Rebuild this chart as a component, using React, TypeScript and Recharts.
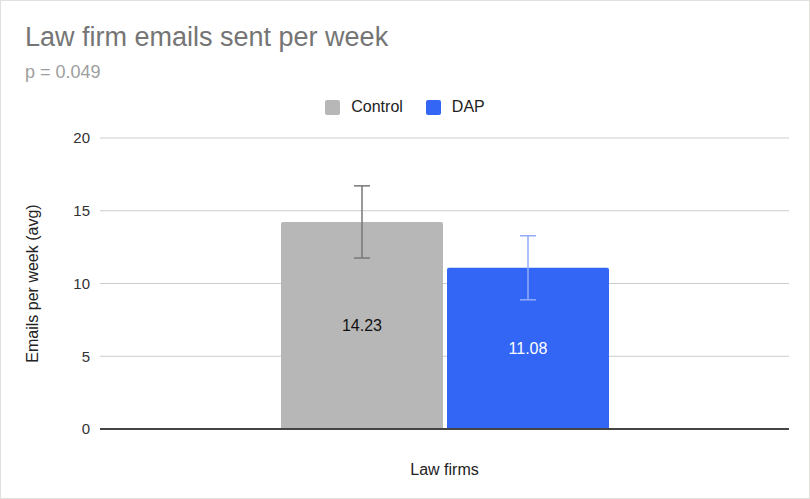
import { Bar, BarChart, CartesianGrid, ErrorBar, LabelList, Legend, XAxis, YAxis } from "recharts"

// Values
const categories = ["Law firms"]
const controlMeans = [14.23]
const dapMeans = [11.08]
const controlErrors = [2.48]
const dapErrors = [2.2]
const yTicks = [0, 5, 10, 15, 20]

const CONTROL_COLOR = "#b7b7b7"
const DAP_COLOR = "#3366f5"
const FONT = "Arial, 'Liberation Sans', Helvetica, sans-serif"

const data = categories.map((name, i) => ({
  name,
  control: controlMeans[i],
  dap: dapMeans[i],
  controlErr: controlErrors[i],
  dapErr: dapErrors[i],
}))

const legendItems = [
  { label: "Control", color: CONTROL_COLOR },
  { label: "DAP", color: DAP_COLOR },
]

function ChartLegend() {
  return (
    <div style={{ display: "flex", justifyContent: "center", alignItems: "center", height: 16, fontFamily: FONT }}>
      {legendItems.map((item, i) => (
        <div
          key={item.label}
          style={{ display: "flex", alignItems: "center", marginRight: i < legendItems.length - 1 ? 23 : 0 }}
        >
          <span
            style={{
              display: "inline-block",
              width: 15,
              height: 15,
              borderRadius: 2,
              background: item.color,
              marginRight: 11,
            }}
          />
          <span style={{ fontSize: 16, color: "#222", lineHeight: "16px" }}>{item.label}</span>
        </div>
      ))}
    </div>
  )
}

export default function App() {
  return (
    <div style={{ position: "relative", width: 810, height: 499, background: "#fff", fontFamily: FONT }}>
      <style>{`body { margin: 0; }`}</style>
      <div
        style={{
          position: "absolute",
          left: 25,
          top: 24,
          fontSize: 27,
          lineHeight: "27px",
          color: "#757575",
          whiteSpace: "nowrap",
        }}
      >
        Law firm emails sent per week
      </div>
      <div
        style={{
          position: "absolute",
          left: 25,
          top: 63,
          fontSize: 18,
          lineHeight: "18px",
          color: "#9e9e9e",
          whiteSpace: "nowrap",
        }}
      >
        p = 0.049
      </div>
      <BarChart
        width={810}
        height={499}
        data={data}
        margin={{ top: 122, right: 21, bottom: 10, left: 0 }}
        barCategoryGap={181}
        barGap={4}
      >
        <CartesianGrid vertical={false} stroke="#cccccc" />
        <XAxis
          dataKey="name"
          height={60}
          axisLine={{ stroke: "#444", strokeWidth: 2 }}
          tickLine={false}
          tickMargin={29}
          tick={{ fill: "#222", fontSize: 16, fontFamily: FONT }}
        />
        <YAxis
          width={100}
          domain={[0, 20]}
          ticks={yTicks}
          axisLine={false}
          tickLine={false}
          tickMargin={4}
          tick={{ fill: "#333", fontSize: 15, fontFamily: FONT }}
          label={{
            value: "Emails per week (avg)",
            angle: -90,
            position: "insideLeft",
            offset: 32,
            style: { textAnchor: "middle", fill: "#222", fontSize: 16, fontFamily: FONT },
          }}
        />
        <Legend
          verticalAlign="top"
          content={() => <ChartLegend />}
          wrapperStyle={{ top: 99, left: 0, width: 810 }}
        />
        <Bar dataKey="control" name="Control" fill={CONTROL_COLOR} radius={[2, 2, 0, 0]} isAnimationActive={false}>
          <ErrorBar dataKey="controlErr" direction="y" width={8} stroke="#777777" strokeWidth={1.5} />
          <LabelList dataKey="control" position="center" fill="#111" fontSize={16} fontFamily={FONT} />
        </Bar>
        <Bar dataKey="dap" name="DAP" fill={DAP_COLOR} radius={[2, 2, 0, 0]} isAnimationActive={false}>
          <ErrorBar dataKey="dapErr" direction="y" width={8} stroke="#94abf7" strokeWidth={1.5} />
          <LabelList dataKey="dap" position="center" fill="#ffffff" fontSize={16} fontFamily={FONT} />
        </Bar>
      </BarChart>
      <div
        style={{
          position: "absolute",
          inset: 0,
          border: "1px solid #e0e0dc",
          pointerEvents: "none",
        }}
      />
    </div>
  )
}
